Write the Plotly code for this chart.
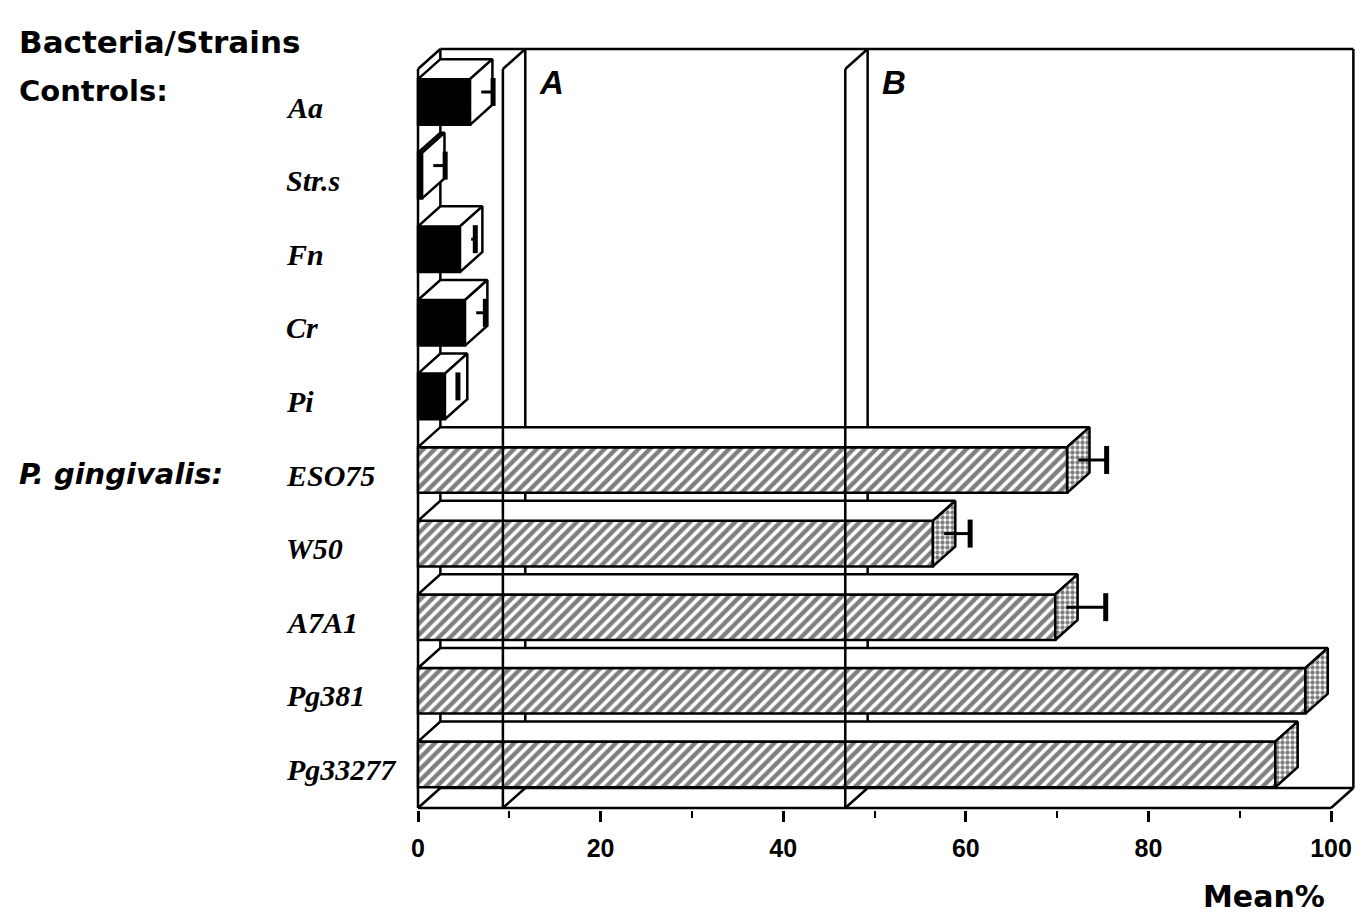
import plotly.graph_objects as go

# ---------------- data ----------------
categories = ["Aa", "Str.s", "Fn", "Cr", "Pi", "ESO75", "W50", "A7A1", "Pg381", "Pg33277"]
is_control = [True, True, True, True, True, False, False, False, False, False]
mean_pct = [5.7, 0.45, 4.6, 5.15, 2.95, 71.1, 56.4, 69.8, 97.2, 93.9]
err_pct = [1.3, 1.3, 0.45, 1.0, 0.2, 3.1, 2.85, 4.3, 0.0, 0.0]
group_labels = ["Controls:", "P. gingivalis:"]
group_first_row = [0, 5]
threshold_vals = [9.3, 46.8]
threshold_names = ["A", "B"]
x_ticks = [0, 20, 40, 60, 80, 100]

# ---------------- geometry / style ----------------
PAGE_OFF = 8                     # browser body margin
W, H = 1355, 907
PLOT_L, PLOT_R, PLOT_T, PLOT_B = 380, 1357, 40, 810     # page pixels
ML = PLOT_L - PAGE_OFF
MR = W - (PLOT_R - PAGE_OFF)
MT = PLOT_T - PAGE_OFF
MB = H - (PLOT_B - PAGE_OFF)
PLOT_W = PLOT_R - PLOT_L
PLOT_H = PLOT_B - PLOT_T

PX_PER_X = 9.13
PX_PER_ROW = 73.6
X0_PX = 418
ROW0_PX = 102
n = len(categories)
ypos = [n - 1 - i for i in range(n)]

x_lo = -(X0_PX - PLOT_L) / PX_PER_X
x_hi = x_lo + PLOT_W / PX_PER_X
y_hi = (n - 1) + (ROW0_PX - PLOT_T) / PX_PER_ROW
y_lo = y_hi - PLOT_H / PX_PER_ROW


def paper_x(px):
    return (px - PLOT_L) / PLOT_W


def paper_y(py):
    return (PLOT_B - py) / PLOT_H


DX = 2.45
DY = 0.272
HH = 0.31
FLOOR = -0.592
TOP = 9.72
LW = 2.5

fig = go.Figure()

ctrl_idx = [i for i in range(n) if is_control[i]]
pg_idx = [i for i in range(n) if not is_control[i]]
fig.add_trace(go.Bar(
    x=[mean_pct[i] for i in ctrl_idx], y=[ypos[i] for i in ctrl_idx],
    orientation="h", width=2 * HH,
    marker=dict(color="black", line=dict(color="black", width=LW)),
    showlegend=False, hoverinfo="skip"))
fig.add_trace(go.Bar(
    x=[mean_pct[i] for i in pg_idx], y=[ypos[i] for i in pg_idx],
    orientation="h", width=2 * HH,
    marker=dict(color="white", line=dict(color="black", width=LW),
                pattern=dict(shape="/", fgcolor="black", bgcolor="white",
                             size=8, solidity=0.55, fillmode="overlay")),
    showlegend=False, hoverinfo="skip"))


def poly_trace(idx_list, kind, **kw):
    xs, ys = [], []
    for i in idx_list:
        v, yc = mean_pct[i], ypos[i]
        if kind == "top":
            px_ = [0, v, v + DX, DX, 0]
            py_ = [yc + HH, yc + HH, yc + HH + DY, yc + HH + DY, yc + HH]
        else:
            px_ = [v, v, v + DX, v + DX, v]
            py_ = [yc - HH, yc + HH, yc + HH + DY, yc - HH + DY, yc - HH]
        xs += px_ + [None]
        ys += py_ + [None]
    return go.Scatter(x=xs, y=ys, mode="lines", fill="toself",
                      line=dict(color="black", width=LW),
                      showlegend=False, hoverinfo="skip", **kw)


fig.add_trace(poly_trace(range(n), "top", fillcolor="white"))
fig.add_trace(poly_trace(ctrl_idx, "side", fillcolor="white"))
fig.add_trace(poly_trace(pg_idx, "side", fillcolor="white",
                         fillpattern=dict(shape=".", fgcolor="black", bgcolor="white",
                                          size=5, solidity=0.6)))

# error bars at mid depth
CAP = 0.19
ex, ey, cx, cy = [], [], [], []
for i in range(n):
    if err_pct[i] <= 0:
        continue
    base = mean_pct[i] + DX / 2
    yc = ypos[i] + DY / 2
    ex += [base, base + err_pct[i], None]
    ey += [yc, yc, None]
    cx += [base + err_pct[i], base + err_pct[i], None]
    cy += [yc - CAP, yc + CAP, None]
fig.add_trace(go.Scatter(x=ex, y=ey, mode="lines", line=dict(color="black", width=3),
                         showlegend=False, hoverinfo="skip"))
fig.add_trace(go.Scatter(x=cx, y=cy, mode="lines", line=dict(color="black", width=5),
                         showlegend=False, hoverinfo="skip"))

# ---------------- frame shapes ----------------
shapes = []


def seg(x0, y0, x1, y1, layer="below", width=LW):
    shapes.append(dict(type="line", xref="x", yref="y", x0=x0, y0=y0, x1=x1, y1=y1,
                       layer=layer, line=dict(color="black", width=width)))


seg(0, FLOOR, 0, TOP - DY)
seg(DX, FLOOR + DY, DX, TOP)
seg(0, TOP - DY, DX, TOP)
seg(DX, TOP, 100 + DX, TOP)
seg(100 + DX, FLOOR + DY, 100 + DX, TOP)
seg(DX, FLOOR + DY, 100 + DX, FLOOR + DY)
seg(0, FLOOR, 100, FLOOR, layer="above")
seg(0, FLOOR, DX, FLOOR + DY, layer="above")
seg(100, FLOOR, 100 + DX, FLOOR + DY, layer="above")

for t in threshold_vals:
    seg(t + DX, FLOOR + DY, t + DX, TOP)
    seg(t, FLOOR, t, TOP - DY, layer="above")
    seg(t, TOP - DY, t + DX, TOP, layer="above")
    seg(t, FLOOR, t + DX, FLOOR + DY, layer="above")

annotations = []
for t, name in zip(threshold_vals, threshold_names):
    annotations.append(dict(x=t + DX, y=9.26, xref="x", yref="y", text=name,
                            showarrow=False, xanchor="left", yanchor="middle", xshift=12,
                            font=dict(family="Liberation Sans", size=33, color="black",
                                      weight="bold", style="italic")))

for i, c in enumerate(categories):
    annotations.append(dict(x=paper_x(284), y=ypos[i], xref="paper", yref="y", text=c,
                            showarrow=False, xanchor="left", yanchor="middle", yshift=-5,
                            font=dict(family="Liberation Serif", size=30, color="black",
                                      weight="bold", style="italic")))

annotations.append(dict(x=paper_x(17), y=paper_y(42), xref="paper", yref="paper",
                        text="Bacteria/Strains", showarrow=False, xanchor="left", yanchor="middle",
                        font=dict(family="DejaVu Sans", size=31, color="black", weight="bold")))
for g, r in zip(group_labels, group_first_row):
    italic = "gingivalis" in g
    annotations.append(dict(x=paper_x(17), y=ypos[r], xref="paper", yref="y", text=g,
                            showarrow=False, xanchor="left", yanchor="middle",
                            yshift=(11 if r == 0 else -4),
                            font=dict(family="DejaVu Sans", size=29, color="black", weight="bold",
                                      style=("italic" if italic else "normal"))))

annotations.append(dict(x=paper_x(1327), y=paper_y(896), xref="paper", yref="paper",
                        text="Mean%", showarrow=False, xanchor="right", yanchor="middle",
                        font=dict(family="DejaVu Sans", size=30, color="black", weight="bold")))

fig.update_layout(
    width=W, height=H,
    margin=dict(l=ML, r=MR, t=MT, b=MB, pad=0),
    paper_bgcolor="white", plot_bgcolor="white",
    barmode="overlay", showlegend=False,
    shapes=shapes, annotations=annotations,
    xaxis=dict(range=[x_lo, x_hi], tickvals=x_ticks, ticks="outside", ticklen=11,
               tickwidth=2.5, tickcolor="black", showgrid=False, zeroline=False,
               showline=False, ticklabelstandoff=5,
               tickfont=dict(family="Liberation Sans", size=25, color="black", weight="bold"),
               minor=dict(dtick=10, tick0=0, ticks="outside", ticklen=7, tickwidth=2,
                          tickcolor="black", showgrid=False)),
    yaxis=dict(range=[y_lo, y_hi], visible=False, showgrid=False, zeroline=False),
)

fig.write_html("out.html")
